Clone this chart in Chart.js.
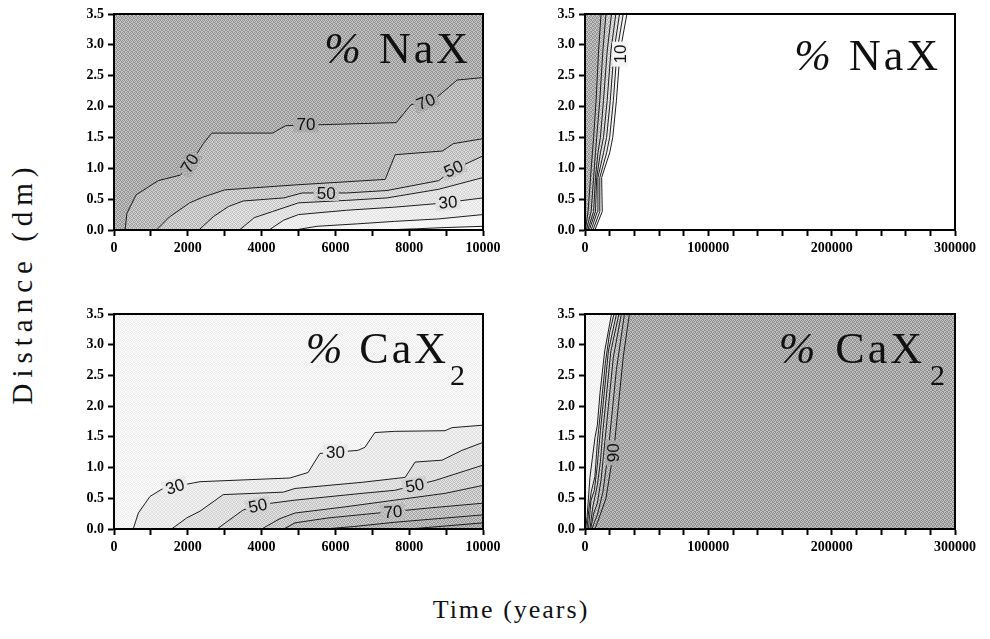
<!DOCTYPE html>
<html>
<head>
<meta charset="utf-8">
<script src="https://cdn.jsdelivr.net/npm/chart.js@4.4.1/dist/chart.umd.min.js"></script>
<style>
  html, body { margin: 0; padding: 0; background: #fff; }
  #wrap { position: relative; width: 990px; height: 639px; overflow: hidden; background: #fff; }
  canvas { position: absolute; }
  .axtitle { position: absolute; font-family: "Liberation Serif", "Times New Roman", serif; color: #111; white-space: nowrap; }
  #ytitle { font-size: 29px; letter-spacing: 6px; left: 22px; top: 283px; transform: translate(-50%, -50%) rotate(-90deg); }
  #xtitle { font-size: 26px; letter-spacing: 2px; left: 511px; top: 610px; transform: translate(-50%, -50%); }
</style>
</head>
<body>
<div id="wrap">
  <canvas id="naxShort" width="459" height="270" style="left:54px;top:0px"></canvas>
  <canvas id="naxLong" width="460" height="270" style="left:525px;top:0px"></canvas>
  <canvas id="caxShort" width="459" height="269" style="left:54px;top:300px"></canvas>
  <canvas id="caxLong" width="460" height="269" style="left:525px;top:300px"></canvas>
  <div id="ytitle" class="axtitle">Distance (dm)</div>
  <div id="xtitle" class="axtitle">Time (years)</div>
</div>
<script>
// ---------- axes ----------
const depthMax = 3.5;
const depthStep = 0.5;
const shortTimeMax = 10000;
const shortTimeStep = 1000;
const shortTimeLabelEvery = 2000;
const longTimeMax = 300000;
const longTimeStep = 20000;
const longTimeLabelEvery = 100000;

// ---------- contour levels (%) ----------
const naxLevels = [10, 20, 30, 40, 50, 60, 70];
const caxLevels = [30, 40, 50, 60, 70, 80, 90];

// ---------- % NaX, 0-10000 years: [time, distance] along each contour ----------
const naxShort10 = [[7300,0],[8200,0.02],[9000,0.04],[10000,0.06]];
const naxShort20 = [[4900,0],[5500,0.06],[6600,0.10],[7600,0.14],[8800,0.18],[10000,0.25]];
const naxShort30 = [[4200,0],[4600,0.16],[5000,0.25],[6300,0.32],[7600,0.37],[8800,0.43],[10000,0.52]];
const naxShort40 = [[3400,0],[3800,0.20],[4300,0.30],[5000,0.44],[6300,0.48],[7400,0.52],[8800,0.66],[10000,0.85]];
const naxShort50 = [[2300,0],[2700,0.22],[3100,0.38],[3500,0.47],[4600,0.52],[5100,0.60],[6300,0.60],[7400,0.64],[8800,0.80],[9200,0.98],[10000,1.20]];
const naxShort60 = [[1150,0],[1500,0.21],[2050,0.44],[2400,0.53],[3000,0.65],[4900,0.73],[7350,0.82],[7620,1.22],[8900,1.28],[9200,1.40],[10000,1.48]];
const naxShort70 = [[300,0],[350,0.27],[600,0.57],[1200,0.80],[1800,0.89],[2050,1.05],[2420,1.40],[2650,1.57],[4300,1.57],[4650,1.69],[7650,1.74],[8050,2.03],[8650,2.10],[9300,2.43],[10000,2.47]];

// ---------- % NaX, 0-300000 years ----------
const naxLong10 = [[8000,0],[14000,0.3],[13500,0.85],[20000,1.25],[22500,1.5],[25500,2.1],[28500,2.9],[34000,3.5]];
const naxLong20 = [[6500,0],[12000,0.3],[12000,0.85],[17500,1.25],[20000,1.5],[23000,2.1],[26000,2.9],[31000,3.5]];
const naxLong30 = [[5000,0],[10000,0.3],[10500,0.85],[15000,1.25],[17500,1.5],[20500,2.1],[23500,2.9],[28000,3.5]];
const naxLong40 = [[3500,0],[8500,0.3],[9500,0.85],[12500,1.25],[15000,1.5],[18000,2.1],[21000,2.9],[25000,3.5]];
const naxLong50 = [[2300,0],[7000,0.3],[8500,0.85],[10500,1.25],[12500,1.5],[15000,2.1],[18000,2.9],[21500,3.5]];
const naxLong60 = [[1100,0],[5000,0.3],[7000,0.85],[8500,1.25],[9500,1.5],[12000,2.1],[14500,2.9],[17000,3.5]];
const naxLong70 = [[300,0],[2500,0.3],[4500,0.85],[6000,1.25],[7000,1.5],[9000,2.1],[11000,2.9],[13000,3.5]];

// ---------- % CaX2, 0-10000 years ----------
const caxShort30 = [[520,0],[660,0.26],[975,0.53],[1300,0.65],[2150,0.75],[2330,0.77],[4765,0.83],[5260,0.92],[5580,1.23],[6610,1.28],[6800,1.33],[7070,1.57],[7610,1.59],[8970,1.60],[9160,1.65],[10000,1.69]];
const caxShort40 = [[1560,0],[1970,0.18],[2330,0.29],[2960,0.56],[4590,0.60],[4905,0.66],[6720,0.76],[7890,0.84],[8160,1.09],[8890,1.12],[9430,1.28],[10000,1.41]];
const caxShort50 = [[2790,0],[3500,0.31],[4000,0.40],[4905,0.47],[6720,0.58],[7610,0.63],[8700,0.79],[10000,1.04]];
const caxShort60 = [[4000,0],[4500,0.17],[4905,0.26],[6260,0.36],[7610,0.47],[8970,0.58],[10000,0.71]];
const caxShort70 = [[4600,0],[4905,0.10],[5800,0.18],[7150,0.26],[8500,0.34],[10000,0.42]];
const caxShort80 = [[5700,0],[6500,0.04],[7610,0.11],[8800,0.17],[10000,0.23]];
const caxShort90 = [[8000,0],[9000,0.05],[10000,0.10]];

// ---------- % CaX2, 0-300000 years ----------
const caxLong30 = [[500,0],[1700,0.2],[4000,0.84],[8100,1.49],[10000,1.69],[12200,2.22],[16000,2.9],[21500,3.5]];
const caxLong40 = [[1600,0],[3000,0.3],[5000,0.6],[8000,0.85],[10000,1.41],[13000,2.0],[16500,2.7],[20000,3.2],[23500,3.5]];
const caxLong50 = [[2800,0],[4900,0.47],[7600,0.63],[10000,1.04],[12500,1.6],[15500,2.2],[19000,2.9],[25500,3.5]];
const caxLong60 = [[4000,0],[6300,0.36],[10000,0.71],[12500,1.1],[14500,1.6],[17500,2.2],[21000,2.9],[27500,3.5]];
const caxLong70 = [[4600,0],[7150,0.26],[10000,0.42],[13000,0.8],[16000,1.4],[19000,2.0],[23000,2.8],[29500,3.5]];
const caxLong80 = [[5700,0],[7600,0.11],[10000,0.23],[14500,0.6],[18500,1.2],[21500,1.8],[25500,2.6],[32000,3.5]];
const caxLong90 = [[8000,0],[10000,0.10],[17000,0.5],[21000,1.0],[23500,1.3],[27000,2.0],[31000,2.8],[36000,3.5]];

// ---------- contour labels: level, time, distance ----------
const naxShortLabels = [[70,2050,1.08],[70,5200,1.71],[70,8450,2.08],[50,5750,0.60],[50,9200,0.99],[30,9050,0.45]];
const naxLongLabels = [[10,28500,2.85]];
const caxShortLabels = [[30,1650,0.69],[30,6000,1.25],[50,3900,0.38],[50,8150,0.71],[70,7560,0.28]];
const caxLongLabels = [[90,23000,1.24]];

// ---------- halftone shades ----------
const gray = g => `rgb(${g},${g},${g})`;
function shade(g, amp) {
  const tile = document.createElement('canvas');
  tile.width = 4; tile.height = 4;
  const t = tile.getContext('2d');
  const hi = Math.min(255, g + amp), lo = Math.max(0, g - amp);
  t.fillStyle = gray(hi); t.fillRect(0, 0, 4, 4);
  t.fillStyle = gray(lo);
  // scattered dots, half of the cells
  [[0,0],[2,0],[1,1],[3,1],[0,2],[3,2],[1,3],[2,3]].forEach(p => t.fillRect(p[0], p[1], 1, 1));
  return t.createPattern(tile, 'repeat');
}
// band colours: index 0 = below the lowest level, i = at or above level i-1
const naxShades = [null, shade(245, 6), shade(236, 10), shade(225, 14), shade(213, 18), shade(199, 22), shade(185, 24), shade(172, 26)];
const caxShades = [shade(244, 8), shade(234, 10), shade(222, 14), shade(210, 18), shade(198, 22), shade(187, 24), shade(177, 26), shade(168, 26)];

const tickFont = { family: '"Liberation Serif", "Times New Roman", serif', size: 14, weight: 'bold' };

// ---------- plugins ----------
const frame = {
  id: 'frame',
  afterDraw(chart) {
    const { ctx, chartArea: a } = chart;
    ctx.save();
    ctx.strokeStyle = '#000';
    ctx.lineWidth = 2;
    ctx.strokeRect(a.left, a.top, a.right - a.left, a.bottom - a.top);
    ctx.restore();
  }
};

const contourLabels = {
  id: 'contourLabels',
  afterDatasetsDraw(chart, args, o) {
    const { ctx, scales: { x, y } } = chart;
    (o.items || []).forEach((it, i) => {
      const px = x.getPixelForValue(it[1]);
      const py = y.getPixelForValue(it[2]);
      const text = String(it[0]);
      ctx.save();
      ctx.font = '17px "Liberation Sans", Arial, sans-serif';
      ctx.textAlign = 'center';
      ctx.textBaseline = 'middle';
      const w = ctx.measureText(text).width;
      ctx.translate(px, py);
      ctx.rotate((o.angles[i] || 0) * Math.PI / 180);
      ctx.fillStyle = o.bg[i];
      ctx.fillRect(-w / 2 - 3, -8, w + 6, 16);
      ctx.fillStyle = '#111';
      ctx.fillText(text, 0, 1);
      ctx.restore();
    });
  }
};

const panelTitle = {
  id: 'panelTitle',
  afterDatasetsDraw(chart, args, o) {
    if (!o.main) return;
    const { ctx, chartArea: a } = chart;
    ctx.save();
    ctx.fillStyle = '#111';
    ctx.textBaseline = 'alphabetic';
    ctx.textAlign = 'left';
    let xr = a.right - o.right;
    const yb = a.top + o.baseline;
    if (o.sub) {
      ctx.font = `${o.subSize}px "Liberation Serif", "Times New Roman", serif`;
      const sw = ctx.measureText(o.sub).width;
      ctx.fillText(o.sub, xr - sw, yb + o.subDrop);
      xr -= sw + o.subGap;
    }
    ctx.font = `${o.size}px "Liberation Serif", "Times New Roman", serif`;
    ctx.letterSpacing = o.spacing + 'px';
    const mw = ctx.measureText(o.main).width - o.spacing;
    ctx.fillText(o.main, xr - mw, yb);
    xr -= mw;
    ctx.letterSpacing = '0px';
    ctx.font = `italic ${o.size}px "Liberation Serif", "Times New Roman", serif`;
    const pw = ctx.measureText('%').width;
    ctx.fillText('%', xr - o.pctGap - pw, yb);
    ctx.restore();
  }
};

// ---------- chart builder ----------
const pts = arr => arr.map(p => ({ x: p[0], y: p[1] }));

function makePanel(id, c) {
  const datasets = [];
  // base band covering the whole plot
  if (c.shades[0]) {
    datasets.push({
      data: pts([[0, 0], [0, depthMax], [c.xMax, depthMax], [c.xMax, 0]]),
      fill: 'shape', backgroundColor: c.shades[0], borderWidth: 0, pointRadius: 0, order: 200
    });
  }
  // bands at or above each level, closed along the plot edges
  c.lines.forEach((line, i) => {
    datasets.push({
      data: pts(line.concat(c.close(line))),
      fill: 'shape', backgroundColor: c.shades[i + 1], borderWidth: 0, pointRadius: 0, order: 150 - i
    });
  });
  // contour lines
  c.lines.forEach(line => {
    datasets.push({
      data: pts(line), fill: false, borderColor: '#1c1c1c', borderWidth: 1,
      pointRadius: 0, tension: 0, order: 10
    });
  });

  const labelBg = c.labels.map(l => c.shades[c.levels.indexOf(l[0])] || '#fff');

  return new Chart(document.getElementById(id), {
    type: 'line',
    data: { datasets },
    plugins: [frame, contourLabels, panelTitle],
    options: {
      responsive: false,
      devicePixelRatio: 1,
      animation: false,
      events: [],
      layout: { autoPadding: false, padding: { top: 14, right: 30, bottom: 0, left: 0 } },
      plugins: {
        legend: { display: false },
        tooltip: { enabled: false },
        contourLabels: { items: c.labels, angles: c.labelAngles, bg: labelBg },
        panelTitle: c.title
      },
      scales: {
        x: {
          type: 'linear', min: 0, max: c.xMax,
          afterFit: s => { s.height = 40; },
          ticks: {
            stepSize: c.xStep, autoSkip: false, maxRotation: 0, minRotation: 0,
            color: '#000', font: tickFont, padding: 4,
            callback: v => (v % c.xLabelEvery === 0 ? String(v) : '')
          },
          grid: { drawOnChartArea: false, drawTicks: true, tickLength: 6, tickWidth: 2, tickColor: '#000' },
          border: { display: true, color: '#000', width: 2 }
        },
        y: {
          type: 'linear', min: 0, max: depthMax,
          afterFit: s => { s.width = 60; },
          ticks: {
            stepSize: depthStep, autoSkip: false, color: '#000', font: tickFont, padding: 4,
            callback: v => Number(v).toFixed(1)
          },
          grid: { drawOnChartArea: false, drawTicks: true, tickLength: 6, tickWidth: 2, tickColor: '#000' },
          border: { display: true, color: '#000', width: 2 }
        }
      }
    }
  });
}

// closing paths for the "at or above level" regions
const closeUpLeft = xMax => line => [[xMax, depthMax], [0, depthMax], [0, 0]];
const closeDownRight = xMax => line => [[xMax, 0]];
const closeLeft = () => line => [[0, depthMax], [0, 0]];
const closeRight = xMax => line => [[xMax, depthMax], [xMax, 0]];

makePanel('naxShort', {
  xMax: shortTimeMax, xStep: shortTimeStep, xLabelEvery: shortTimeLabelEvery,
  levels: [null].concat(naxLevels),
  lines: [naxShort10, naxShort20, naxShort30, naxShort40, naxShort50, naxShort60, naxShort70],
  shades: naxShades, close: closeUpLeft(shortTimeMax),
  labels: naxShortLabels, labelAngles: [-58, 0, -22, 0, -25, -5],
  title: { main: 'NaX', right: 15, baseline: 49, size: 44, spacing: 3, pctGap: 18 }
});

makePanel('naxLong', {
  xMax: longTimeMax, xStep: longTimeStep, xLabelEvery: longTimeLabelEvery,
  levels: [null].concat(naxLevels),
  lines: [naxLong10, naxLong20, naxLong30, naxLong40, naxLong50, naxLong60, naxLong70],
  shades: naxShades, close: closeLeft(),
  labels: naxLongLabels, labelAngles: [-90],
  title: { main: 'NaX', right: 17, baseline: 56, size: 44, spacing: 3, pctGap: 18 }
});

makePanel('caxShort', {
  xMax: shortTimeMax, xStep: shortTimeStep, xLabelEvery: shortTimeLabelEvery,
  levels: [null].concat(caxLevels),
  lines: [caxShort30, caxShort40, caxShort50, caxShort60, caxShort70, caxShort80, caxShort90],
  shades: caxShades, close: closeDownRight(shortTimeMax),
  labels: caxShortLabels, labelAngles: [-18, 0, -12, -10, -4],
  title: { main: 'CaX', sub: '2', subSize: 30, subDrop: 22, subGap: 4, right: 18, baseline: 49, size: 44, spacing: 3, pctGap: 17 }
});

makePanel('caxLong', {
  xMax: longTimeMax, xStep: longTimeStep, xLabelEvery: longTimeLabelEvery,
  levels: [null].concat(caxLevels),
  lines: [caxLong30, caxLong40, caxLong50, caxLong60, caxLong70, caxLong80, caxLong90],
  shades: caxShades, close: closeRight(longTimeMax),
  labels: caxLongLabels, labelAngles: [-90],
  title: { main: 'CaX', sub: '2', subSize: 30, subDrop: 22, subGap: 8, right: 10, baseline: 49, size: 44, spacing: 3, pctGap: 20 }
});
</script>
</body>
</html>
